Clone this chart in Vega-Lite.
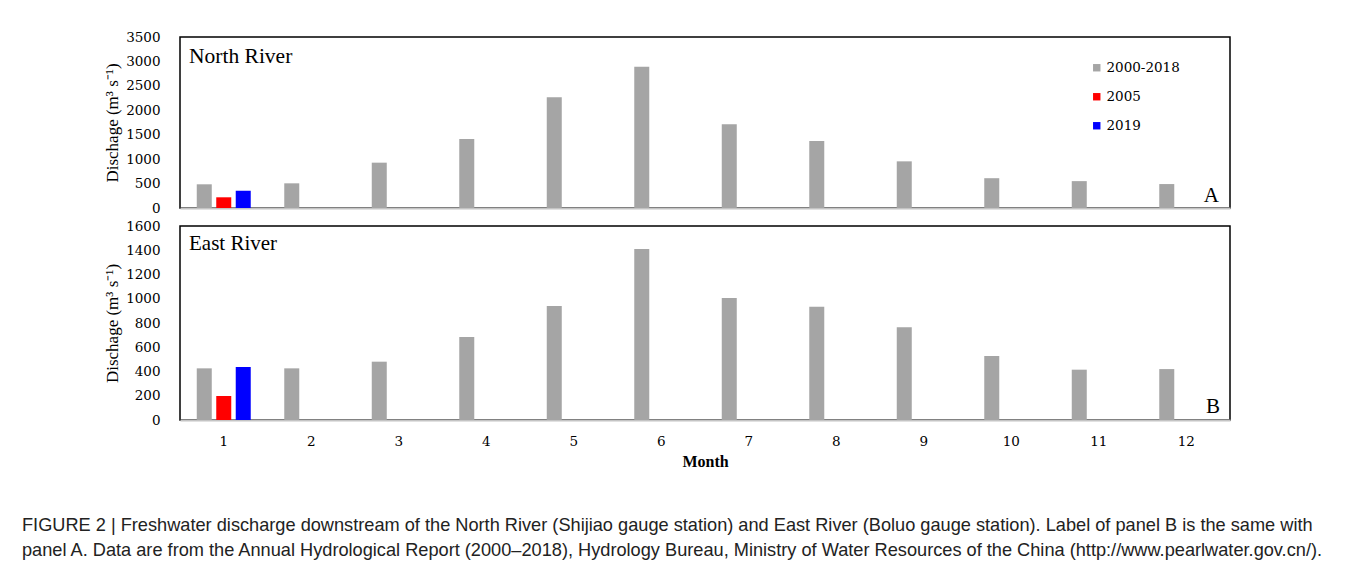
{
  "$schema": "https://vega.github.io/schema/vega-lite/v6.json",
  "background": "white",
  "padding": {"left": 22, "top": 29, "right": 10, "bottom": 10},
  "title": {
    "text": [
      "FIGURE 2 | Freshwater discharge downstream of the North River (Shijiao gauge station) and East River (Boluo gauge station). Label of panel B is the same with",
      "panel A. Data are from the Annual Hydrological Report (2000–2018), Hydrology Bureau, Ministry of Water Resources of the China (http://www.pearlwater.gov.cn/)."
    ],
    "orient": "bottom",
    "anchor": "start",
    "frame": "group",
    "dx": -158,
    "offset": 47,
    "font": "Liberation Sans",
    "fontSize": 18.2,
    "fontWeight": "normal",
    "color": "#222222",
    "lineHeight": 25
  },
  "data": {
    "values": [
      {"panel": "A", "month": 1, "series": "2000-2018", "value": 485},
      {"panel": "A", "month": 1, "series": "2005", "value": 219},
      {"panel": "A", "month": 1, "series": "2019", "value": 354},
      {"panel": "A", "month": 2, "series": "2000-2018", "value": 505},
      {"panel": "A", "month": 3, "series": "2000-2018", "value": 928},
      {"panel": "A", "month": 4, "series": "2000-2018", "value": 1412},
      {"panel": "A", "month": 5, "series": "2000-2018", "value": 2266},
      {"panel": "A", "month": 6, "series": "2000-2018", "value": 2893},
      {"panel": "A", "month": 7, "series": "2000-2018", "value": 1713},
      {"panel": "A", "month": 8, "series": "2000-2018", "value": 1370},
      {"panel": "A", "month": 9, "series": "2000-2018", "value": 955},
      {"panel": "A", "month": 10, "series": "2000-2018", "value": 610},
      {"panel": "A", "month": 11, "series": "2000-2018", "value": 550},
      {"panel": "A", "month": 12, "series": "2000-2018", "value": 490},
      {"panel": "B", "month": 1, "series": "2000-2018", "value": 426},
      {"panel": "B", "month": 1, "series": "2005", "value": 198},
      {"panel": "B", "month": 1, "series": "2019", "value": 437},
      {"panel": "B", "month": 2, "series": "2000-2018", "value": 426},
      {"panel": "B", "month": 3, "series": "2000-2018", "value": 481},
      {"panel": "B", "month": 4, "series": "2000-2018", "value": 684},
      {"panel": "B", "month": 5, "series": "2000-2018", "value": 940},
      {"panel": "B", "month": 6, "series": "2000-2018", "value": 1410},
      {"panel": "B", "month": 7, "series": "2000-2018", "value": 1006},
      {"panel": "B", "month": 8, "series": "2000-2018", "value": 934},
      {"panel": "B", "month": 9, "series": "2000-2018", "value": 765},
      {"panel": "B", "month": 10, "series": "2000-2018", "value": 528},
      {"panel": "B", "month": 11, "series": "2000-2018", "value": 415},
      {"panel": "B", "month": 12, "series": "2000-2018", "value": 420}
    ]
  },
  "spacing": 2,
  "resolve": {"legend": {"color": "independent"}},
  "vconcat": [
    {
      "width": 1050,
      "height": 171,
      "layer": [
        {
          "transform": [{"filter": "datum.panel == 'A'"}],
          "mark": {"type": "bar"},
          "encoding": {
            "x": {
              "field": "month", "type": "ordinal",
              "scale": {"paddingInner": 0, "paddingOuter": 0},
              "axis": {"labels": false, "ticks": false, "title": null, "domainColor": "#c4c4c4", "domainWidth": 2}
            },
            "xOffset": {
              "field": "series", "type": "nominal",
              "sort": ["2000-2018", "2005", "2019"],
              "scale": {"paddingInner": 0.23, "paddingOuter": 0.86}
            },
            "y": {
              "field": "value", "type": "quantitative",
              "scale": {"domain": [0, 3500], "nice": false},
              "axis": {"values": [0, 500, 1000, 1500, 2000, 2500, 3000, 3500], "format": "d", "title": "Dischage (m³ s⁻¹)"}
            },
            "color": {
              "field": "series", "type": "nominal",
              "scale": {"domain": ["2000-2018", "2005", "2019"], "range": ["#a5a5a5", "#ff0000", "#0000ff"]},
              "legend": {"orient": "none", "legendX": 910, "legendY": 24, "title": null}
            }
          }
        },
        {
          "data": {"values": [{"label": "North River"}]},
          "mark": {"type": "text", "align": "left", "baseline": "alphabetic", "dx": 9, "dy": 26, "font": "Liberation Serif", "fontSize": 21.5, "color": "black"},
          "encoding": {
            "x": {"datum": 1, "type": "ordinal", "bandPosition": 0},
            "y": {"datum": 3500, "type": "quantitative", "axis": {"values": [0, 500, 1000, 1500, 2000, 2500, 3000, 3500], "format": "d", "title": "Dischage (m³ s⁻¹)"}},
            "text": {"field": "label"}
          }
        },
        {
          "data": {"values": [{"label": "A"}]},
          "mark": {"type": "text", "align": "right", "baseline": "alphabetic", "dx": -11, "dy": -6, "font": "Liberation Serif", "fontSize": 21, "color": "black"},
          "encoding": {
            "x": {"datum": 12, "type": "ordinal", "bandPosition": 1},
            "y": {"datum": 0, "type": "quantitative", "axis": {"values": [0, 500, 1000, 1500, 2000, 2500, 3000, 3500], "format": "d", "title": "Dischage (m³ s⁻¹)"}},
            "text": {"field": "label"}
          }
        }
      ]
    },
    {
      "width": 1050,
      "height": 194,
      "layer": [
        {
          "transform": [{"filter": "datum.panel == 'B'"}],
          "mark": {"type": "bar"},
          "encoding": {
            "x": {
              "field": "month", "type": "ordinal",
              "scale": {"paddingInner": 0, "paddingOuter": 0},
              "axis": {"labelAngle": 0, "ticks": false, "title": "Month", "domainColor": "#c4c4c4", "domainWidth": 2, "labelPadding": 14, "titlePadding": 6, "titleFont": "Liberation Serif", "titleFontWeight": "bold", "titleFontSize": 16}
            },
            "xOffset": {
              "field": "series", "type": "nominal",
              "sort": ["2000-2018", "2005", "2019"],
              "scale": {"paddingInner": 0.23, "paddingOuter": 0.86}
            },
            "y": {
              "field": "value", "type": "quantitative",
              "scale": {"domain": [0, 1600], "nice": false},
              "axis": {"values": [0, 200, 400, 600, 800, 1000, 1200, 1400, 1600], "format": "d", "title": "Dischage (m³ s⁻¹)"}
            },
            "color": {
              "field": "series", "type": "nominal",
              "scale": {"domain": ["2000-2018", "2005", "2019"], "range": ["#a5a5a5", "#ff0000", "#0000ff"]},
              "legend": null
            }
          }
        },
        {
          "data": {"values": [{"label": "East River"}]},
          "mark": {"type": "text", "align": "left", "baseline": "alphabetic", "dx": 9, "dy": 24, "font": "Liberation Serif", "fontSize": 21, "color": "black"},
          "encoding": {
            "x": {"datum": 1, "type": "ordinal", "bandPosition": 0},
            "y": {"datum": 1600, "type": "quantitative", "axis": {"values": [0, 200, 400, 600, 800, 1000, 1200, 1400, 1600], "format": "d", "title": "Dischage (m³ s⁻¹)"}},
            "text": {"field": "label"}
          }
        },
        {
          "data": {"values": [{"label": "B"}]},
          "mark": {"type": "text", "align": "right", "baseline": "alphabetic", "dx": -10, "dy": -7, "font": "Liberation Serif", "fontSize": 21, "color": "black"},
          "encoding": {
            "x": {"datum": 12, "type": "ordinal", "bandPosition": 1},
            "y": {"datum": 0, "type": "quantitative", "axis": {"values": [0, 200, 400, 600, 800, 1000, 1200, 1400, 1600], "format": "d", "title": "Dischage (m³ s⁻¹)"}},
            "text": {"field": "label"}
          }
        }
      ]
    }
  ],
  "config": {
    "view": {"stroke": "black", "strokeWidth": 1.5},
    "axis": {
      "grid": false,
      "ticks": false,
      "tickSize": 0,
      "labelFont": "DejaVu Serif",
      "labelFontSize": 13.5,
      "labelColor": "black",
      "titleFont": "Liberation Serif",
      "titleFontSize": 17,
      "titleFontWeight": "normal",
      "titleColor": "black"
    },
    "axisY": {"domain": false, "labelPadding": 20, "titlePadding": 4},
    "legend": {
      "labelFont": "DejaVu Serif",
      "labelFontSize": 13.5,
      "labelColor": "black",
      "symbolType": "square",
      "symbolSize": 55,
      "symbolStrokeWidth": 0,
      "rowPadding": 14,
      "labelOffset": 3,
      "padding": 0
    }
  }
}
